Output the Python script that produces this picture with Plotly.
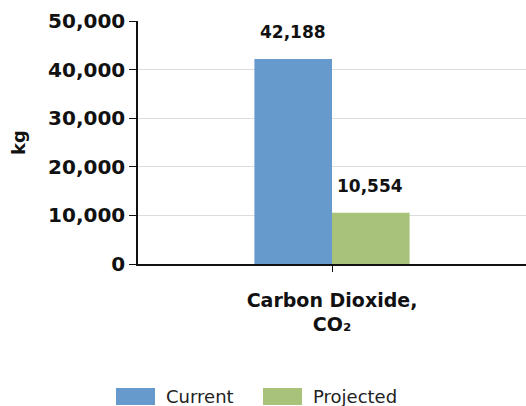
import plotly.graph_objects as go

# Emissions data
categories = ["Carbon Dioxide,<br>CO₂"]
series_names = ["Current", "Projected"]
current_values = [42188]
projected_values = [10554]
series_colors = ["#6699cc", "#a8c27a"]
y_ticks = [0, 10000, 20000, 30000, 40000, 50000]

FONT = "DejaVu Sans"

fig = go.Figure()
for name, vals, col in zip(series_names, [current_values, projected_values], series_colors):
    fig.add_trace(go.Bar(
        x=categories, y=vals, name=name, marker=dict(color=col, line=dict(width=0)),
        showlegend=False,
    ))

# value labels above each bar
offsets = [-39, 38]
for vals, dx in zip([current_values, projected_values], offsets):
    for c, v in zip(categories, vals):
        fig.add_annotation(
            x=c, y=v, xref="x", yref="y", text=f"<b>{v:,}</b>",
            showarrow=False, xshift=dx, yshift=15, yanchor="bottom",
            font=dict(family=FONT, size=17, color="#111111"),
        )

# legend drawn as wide swatches beneath the chart
legend_x = [116, 263]
plot_left, plot_w, plot_top, plot_h = 138, 388, 21, 243
def px(x):
    return (x - plot_left) / plot_w
def py(y):
    return (plot_top + plot_h - y) / plot_h
for name, col, lx in zip(series_names, series_colors, legend_x):
    fig.add_shape(type="rect", xref="paper", yref="paper",
                  x0=px(lx), x1=px(lx + 39), y0=py(405), y1=py(388),
                  fillcolor=col, line=dict(width=0))
    fig.add_annotation(xref="paper", yref="paper", x=px(lx + 48), y=py(396),
                       text=name, showarrow=False, xanchor="left", yanchor="middle",
                       font=dict(family=FONT, size=18, color="#222222"))

fig.update_layout(
    width=526, height=406,
    margin=dict(l=138, r=0, t=21, b=142),
    paper_bgcolor="white", plot_bgcolor="white",
    barmode="group", bargap=0.6, bargroupgap=0,
    font=dict(family=FONT, color="#111111"),
    xaxis=dict(
        showline=True, linecolor="#111111", linewidth=1.5,
        ticks="outside", ticklen=6, tickcolor="#111111",
        tickfont=dict(family=FONT, size=19, color="#111111", weight="bold"),
        ticklabelstandoff=12,
        showgrid=False, zeroline=False,
    ),
    yaxis=dict(
        range=[0, 50000], tickvals=y_ticks, tickformat=",d",
        showline=True, linecolor="#111111", linewidth=1.5,
        ticks="outside", ticklen=7, tickcolor="#111111",
        tickfont=dict(family=FONT, size=20, color="#111111", weight="bold"),
        showgrid=True, gridcolor="#dcdcdc", gridwidth=1, zeroline=False,
        title=dict(text="<b>kg</b>", font=dict(family=FONT, size=18, color="#111111"), standoff=18),
    ),
)

fig.write_html("out.html")
